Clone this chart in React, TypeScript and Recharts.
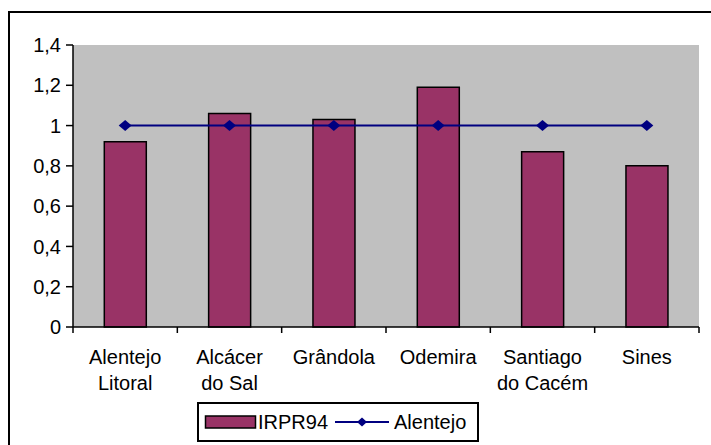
import { ComposedChart, Bar, Line, XAxis, YAxis, CartesianGrid, Legend } from 'recharts';

const categories = ['Alentejo Litoral', 'Alcácer do Sal', 'Grândola', 'Odemira', 'Santiago do Cacém', 'Sines'];
const tickLines = [['Alentejo', 'Litoral'], ['Alcácer', 'do Sal'], ['Grândola'], ['Odemira'], ['Santiago', 'do Cacém'], ['Sines']];
const irpr94 = [0.92, 1.06, 1.03, 1.19, 0.87, 0.8];
const alentejo = [1, 1, 1, 1, 1, 1];
const yTicks = [0, 0.2, 0.4, 0.6, 0.8, 1, 1.2, 1.4];

const data = categories.map((name, i) => ({ name, irpr94: irpr94[i], alentejo: alentejo[i] }));

const FONT = '"Liberation Sans", Arial, sans-serif';
const FS = 20;
const BAR = '#993366';
const NAVY = '#000080';

const Diamond = (props: any) => {
    const { cx, cy } = props;
    if (cx == null || cy == null) return null;
    return <polygon points={`${cx - 6.5},${cy} ${cx},${cy - 5.5} ${cx + 6.5},${cy} ${cx},${cy + 5.5}`} fill={NAVY} />;
};

// labels split over lines, plus Excel-style tick marks on the category boundaries
const CategoryTick = (props: any) => {
    const { x, y, index, payload } = props;
    const lines = tickLines[index] || [];
    const half = payload && payload.offset ? payload.offset : 0;
    return (
        <g>
            <line x1={x - half} y1={y - 6} x2={x - half} y2={y} stroke="#000" strokeWidth={1.5} />
            {index === categories.length - 1 && (
                <line x1={x + half} y1={y - 6} x2={x + half} y2={y} stroke="#000" strokeWidth={1.5} />
            )}
            <text x={x} y={y} textAnchor="middle" fontFamily={FONT} fontSize={FS} fill="#000">
                {lines.map((l, i) => (
                    <tspan key={i} x={x} dy={i === 0 ? 31 : 26}>{l}</tspan>
                ))}
            </text>
        </g>
    );
};

const LegendBox = () => (
    <svg width={282} height={40} style={{ display: 'block' }}>
        <rect x={1} y={1} width={280} height={38} fill="#fff" stroke="#000" strokeWidth={2} />
        <rect x={8.5} y={14} width={50} height={12} fill={BAR} stroke="#000" strokeWidth={1.5} />
        <text x={61} y={27} fontFamily={FONT} fontSize={FS} fill="#000">IRPR94</text>
        <line x1={138} y1={20} x2={192} y2={20} stroke={NAVY} strokeWidth={2} />
        <polygon points="160,20 165,15.5 170,20 165,24.5" fill={NAVY} />
        <text x={197} y={27} fontFamily={FONT} fontSize={FS} fill="#000">Alentejo</text>
    </svg>
);

export default function App() {
    return (
        <div style={{ position: 'absolute', left: 0, top: 0, width: 711, height: 445, overflow: 'hidden', background: '#fff' }}>
            <div style={{ position: 'absolute', left: 8, top: 11, width: 760, height: 500, border: '2px solid #000', boxSizing: 'border-box' }} />
            <div style={{ position: 'absolute', left: 0, top: 0 }}>
                <ComposedChart
                    width={711}
                    height={445}
                    data={data}
                    margin={{ top: 45, right: 12, bottom: 18, left: 8 }}
                    barCategoryGap="30%"
                >
                    <CartesianGrid horizontal={false} vertical={false} fill="#C0C0C0" />
                    <XAxis xAxisId="t" dataKey="name" orientation="top" height={0} tick={false} tickLine={false} axisLine={{ stroke: '#808080', strokeWidth: 1.5 }} />
                    <XAxis
                        dataKey="name"
                        height={60}
                        interval={0}
                        tickLine={false}
                        tickSize={6}
                        tickMargin={0}
                        axisLine={{ stroke: '#000', strokeWidth: 1.5 }}
                        tick={<CategoryTick />}
                    />
                    <YAxis
                        width={65}
                        domain={[0, 1.4]}
                        ticks={yTicks}
                        interval={0}
                        tickSize={7}
                        tickMargin={5}
                        tickFormatter={(v: number) => String(Math.round(v * 10) / 10).replace('.', ',')}
                        tick={{ fontFamily: FONT, fontSize: FS, fill: '#000' }}
                        tickLine={{ stroke: '#000', strokeWidth: 1.5 }}
                        axisLine={{ stroke: '#000', strokeWidth: 1.5 }}
                    />
                    <YAxis yAxisId="r" orientation="right" width={0} domain={[0, 1.4]} tick={false} tickLine={false} axisLine={{ stroke: '#808080', strokeWidth: 1.5 }} />
                    <Bar dataKey="irpr94" fill={BAR} stroke="#000" strokeWidth={1.5} isAnimationActive={false} />
                    <Line dataKey="alentejo" stroke={NAVY} strokeWidth={2} dot={<Diamond />} activeDot={false} isAnimationActive={false} />
                    <Legend
                        verticalAlign="bottom"
                        content={<LegendBox />}
                        wrapperStyle={{ top: 402, left: 197, bottom: 'auto', width: 282, height: 40 }}
                    />
                </ComposedChart>
            </div>
        </div>
    );
}
